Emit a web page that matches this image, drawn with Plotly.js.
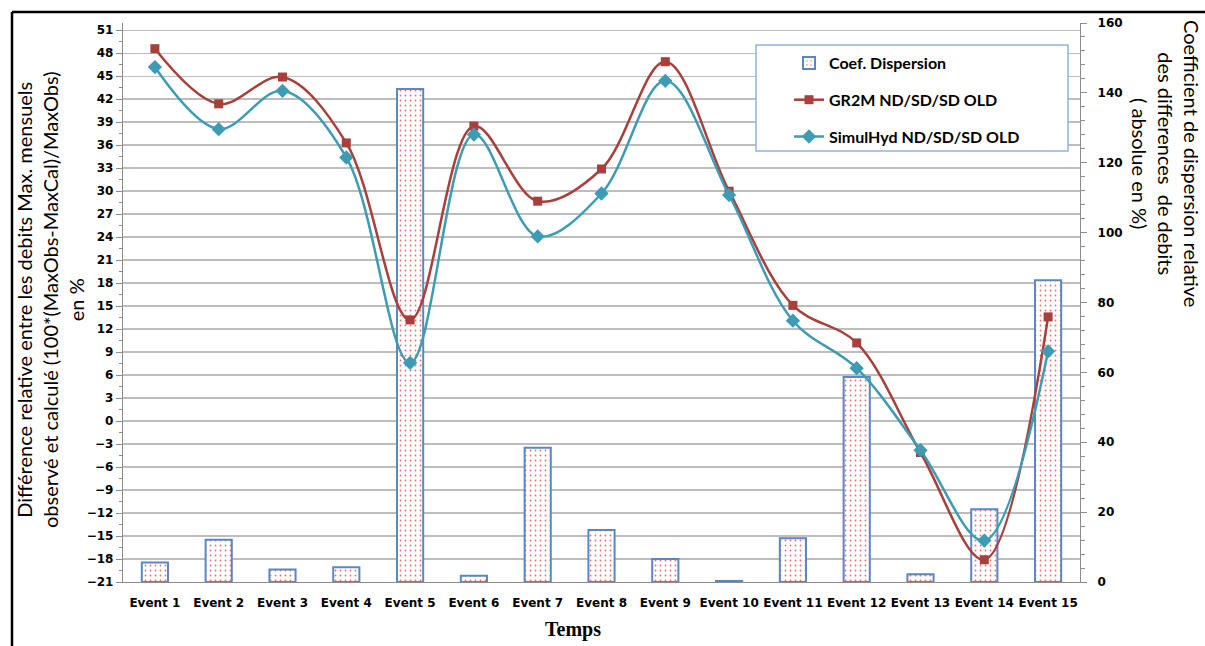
<!DOCTYPE html>
<html>
<head>
<meta charset="utf-8">
<script src="https://cdn.plot.ly/plotly-3.0.1.min.js"></script>
<style>html,body{margin:0;padding:0;background:#fff;}#chart{width:1205px;height:646px;}</style>
</head>
<body>
<div id="chart"></div>
<script>
// ---- data ----
const categories = ["Event 1","Event 2","Event 3","Event 4","Event 5","Event 6","Event 7","Event 8","Event 9","Event 10","Event 11","Event 12","Event 13","Event 14","Event 15"];
const coefDispersion = [5.6, 12.1, 3.6, 4.2, 141.1, 1.8, 38.4, 14.9, 6.6, 0.3, 12.5, 58.7, 2.2, 20.8, 86.4];
const gr2m = [48.6, 41.4, 44.9, 36.3, 13.2, 38.5, 28.7, 32.9, 46.9, 30.0, 15.1, 10.2, -4.1, -18.1, 13.6];
const simulhyd = [46.2, 38.1, 43.1, 34.4, 7.6, 37.4, 24.1, 29.7, 44.4, 29.5, 13.1, 6.9, -3.8, -15.6, 9.1];
const seriesNames = ["Coef. Dispersion", "GR2M ND/SD/SD OLD", "SimulHyd ND/SD/SD OLD"];
const leftTitle = "Différence relative entre les debits Max. mensuels<br>observé et calculé (100*(MaxObs-MaxCal)/MaxObs)<br>en %";
const rightTitle = "Coefficient de dispersion relative<br>des differences  de debits<br>( absolue en %)";
const xTitle = "Temps";

// ---- layout geometry ----
const W = 1205, H = 646;
const M = {l: 123, r: 125, t: 23, b: 64};
const PW = W - M.l - M.r, PH = H - M.t - M.b;
const px = v => (v - M.l) / PW;
const py = v => (H - M.b - v) / PH;

const tickFont = {family: "DejaVu Sans", size: 12, weight: "bold", color: "#000"};
const axisGrey = "#8C8C8C";

const traces = [
  {
    type: "bar", name: seriesNames[0], x: categories, y: coefDispersion,
    yaxis: "y", width: 0.41, legendgroup: "a",
    marker: {
      color: "#ffffff",
      line: {color: "#5B87C0", width: 2},
      pattern: {shape: ".", fgcolor: "#F46A6A", bgcolor: "#ffffff", size: 5, solidity: 0.1, fillmode: "replace"}
    },
    hoverinfo: "x+y"
  },
  {
    type: "scatter", mode: "lines+markers", name: seriesNames[1], x: categories, y: gr2m,
    yaxis: "y2", legendgroup: "b",
    line: {shape: "spline", smoothing: 1, color: "#A83F3B", width: 2.5},
    marker: {symbol: "square", size: 9, color: "#A83F3B"}
  },
  {
    type: "scatter", mode: "lines+markers", name: seriesNames[2], x: categories, y: simulhyd,
    yaxis: "y2", legendgroup: "c",
    line: {shape: "spline", smoothing: 1, color: "#3E9BB4", width: 2.5},
    marker: {symbol: "diamond", size: 11, color: "#3E9BB4"}
  }
];

const layout = {
  width: W, height: H,
  margin: M,
  paper_bgcolor: "#ffffff", plot_bgcolor: "#ffffff",
  showlegend: true,
  legend: {
    x: px(789), y: py(46), xanchor: "left", yanchor: "top",
    bgcolor: "rgba(0,0,0,0)", borderwidth: 0,
    traceorder: "grouped", tracegroupgap: 13,
    font: {family: "Lato", size: 16, weight: "bold", color: "#000"}
  },
  xaxis: {
    type: "category", range: [-0.5, 14.5],
    showline: true, linecolor: axisGrey, linewidth: 1.2,
    ticks: "", showgrid: false, zeroline: false,
    ticklabelstandoff: 9,
    tickfont: tickFont
  },
  yaxis: {
    side: "right", range: [0, 160], tick0: 0, dtick: 20,
    showgrid: false, zeroline: false,
    showline: true, linecolor: axisGrey, linewidth: 1.2,
    ticks: "outside", ticklen: 6, tickcolor: axisGrey,
    minor: {dtick: 4, ticks: "outside", ticklen: 4, tickcolor: axisGrey, showgrid: false},
    ticklabelstandoff: 8,
    tickfont: tickFont
  },
  yaxis2: {
    overlaying: "y", side: "left", range: [-21, 51.95], tick0: -21, dtick: 3,
    showgrid: true, gridcolor: "#BDBDBD", gridwidth: 1.5, zeroline: false,
    showline: true, linecolor: axisGrey, linewidth: 1.2,
    ticks: "outside", ticklen: 6, tickcolor: axisGrey,
    minor: {dtick: 1.5, ticks: "outside", ticklen: 3, tickcolor: axisGrey, showgrid: false},
    tickfont: tickFont
  },
  shapes: [
    {type: "rect", xref: "paper", yref: "paper", x0: px(756), x1: px(1068), y0: py(45), y1: py(151),
     line: {color: "#8DB4E2", width: 1.5}, fillcolor: "#ffffff", layer: "above"},
    {type: "line", xref: "paper", yref: "paper", x0: px(12), x1: px(1210), y0: py(12), y1: py(12),
     line: {color: "#000", width: 2.5}},
    {type: "line", xref: "paper", yref: "paper", x0: px(12), x1: px(12), y0: py(12), y1: py(650),
     line: {color: "#000", width: 2.5}}
  ],
  annotations: [
    {text: leftTitle, textangle: -90, xref: "paper", yref: "paper", x: px(50), y: py(300),
     xanchor: "center", yanchor: "middle", showarrow: false,
     font: {family: "Lato", size: 20, color: "#000"}},
    {text: rightTitle, textangle: 90, xref: "paper", yref: "paper", x: px(1166), y: py(163),
     xanchor: "center", yanchor: "middle", showarrow: false,
     font: {family: "Lato", size: 20, color: "#000"}},
    {text: "<b>" + xTitle + "</b>", xref: "paper", yref: "paper", x: px(573), y: py(630),
     xanchor: "center", yanchor: "middle", showarrow: false,
     font: {family: "Liberation Serif", size: 20, color: "#000"}}
  ]
};

Plotly.newPlot("chart", traces, layout, {displayModeBar: false, staticPlot: true});
</script>
</body>
</html>
